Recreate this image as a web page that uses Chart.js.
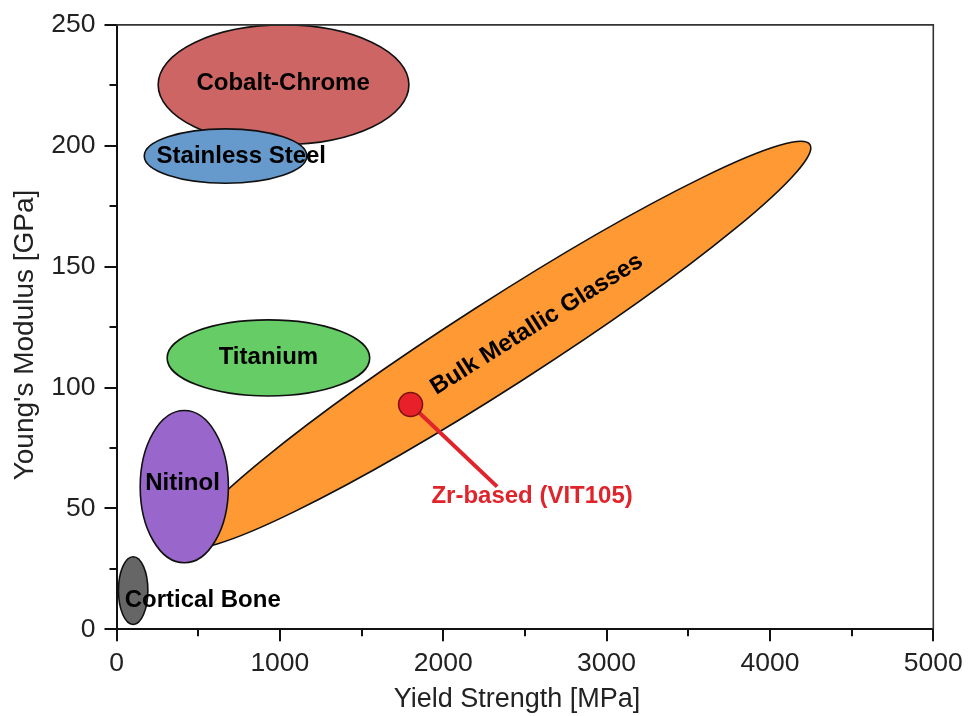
<!DOCTYPE html>
<html>
<head>
<meta charset="utf-8">
<script src="https://cdn.jsdelivr.net/npm/chart.js@4.4.1/dist/chart.umd.min.js"></script>
<style>
  html, body { margin: 0; padding: 0; background: #fff; }
  canvas { display: block; }
</style>
</head>
<body>
<canvas id="chart" width="969" height="716"></canvas>
<script>
// axis ticks
const xTicks = [0, 1000, 2000, 3000, 4000, 5000];
const yTicks = [0, 50, 100, 150, 200, 250];
const xTitle = "Yield Strength [MPa]";
const yTitle = "Young's Modulus [GPa]";

// material regions (yield strength MPa, Young's modulus GPa)
const regionNames = ["Cobalt-Chrome", "Stainless Steel", "Titanium", "Nitinol", "Cortical Bone"];
const strengthMin = [255, 170, 310, 145, 12];
const strengthMax = [1790, 1165, 1550, 685, 192];
const modulusMin = [200.5, 184.5, 96.5, 27.5, 2];
const modulusMax = [250, 207, 128, 90.5, 30];
const regionColors = ["#cd6565", "#6699cc", "#66cc66", "#9966cc", "#666666"];
// where each name is written
const labelStrength = [1020, 764, 930, 404, 528];
const labelModulus = [226, 195.6, 112.5, 60.3, 12.1];

// bulk metallic glasses band, tip to tip
const bmgName = "Bulk Metallic Glasses";
const bmgStrength = [430, 4245];
const bmgModulus = [35, 200.5];
const bmgThickness = 0.116;
const bmgLabel = [2573, 126.1];

// highlighted alloy
const alloyName = "Zr-based (VIT105)";
const alloyStrength = [1800];
const alloyModulus = [93];
const leaderStrength = [1800, 2330];
const leaderModulus = [93, 59];
const alloyLabel = [2544, 55];

const FONT = "'Liberation Sans', Arial, Helvetica, sans-serif";

const regionsPlugin = {
  id: "regions",
  beforeDatasetsDraw(chart) {
    const { ctx } = chart;
    const x = chart.scales.x, y = chart.scales.y;
    ctx.save();
    ctx.lineWidth = 1.6;
    ctx.strokeStyle = "#111";

    // BMG band
    const x0 = x.getPixelForValue(bmgStrength[0]), y0 = y.getPixelForValue(bmgModulus[0]);
    const x1 = x.getPixelForValue(bmgStrength[1]), y1 = y.getPixelForValue(bmgModulus[1]);
    const a = Math.hypot(x1 - x0, y1 - y0) / 2;
    ctx.beginPath();
    ctx.ellipse((x0 + x1) / 2, (y0 + y1) / 2, a, a * bmgThickness, Math.atan2(y1 - y0, x1 - x0), 0, Math.PI * 2);
    ctx.fillStyle = "#ff9933";
    ctx.fill();
    ctx.stroke();

    regionNames.forEach((n, i) => {
      const l = x.getPixelForValue(strengthMin[i]), r = x.getPixelForValue(strengthMax[i]);
      const t = y.getPixelForValue(modulusMax[i]), b = y.getPixelForValue(modulusMin[i]);
      ctx.beginPath();
      ctx.ellipse((l + r) / 2, (t + b) / 2, (r - l) / 2, (b - t) / 2, 0, 0, Math.PI * 2);
      ctx.fillStyle = regionColors[i];
      ctx.fill();
      ctx.stroke();
    });

    ctx.fillStyle = "#000";
    ctx.font = "bold 24px " + FONT;
    ctx.textAlign = "center";
    ctx.textBaseline = "middle";
    regionNames.forEach((n, i) => {
      ctx.fillText(n, x.getPixelForValue(labelStrength[i]), y.getPixelForValue(labelModulus[i]));
    });

    ctx.save();
    ctx.translate(x.getPixelForValue(bmgLabel[0]), y.getPixelForValue(bmgLabel[1]));
    ctx.rotate(-32 * Math.PI / 180);
    ctx.fillText(bmgName, 0, 0);
    ctx.restore();
    ctx.restore();
  },
  afterDraw(chart) {
    const { ctx, chartArea: ca } = chart;
    const x = chart.scales.x, y = chart.scales.y;
    ctx.save();
    // frame top and right
    ctx.strokeStyle = "#333";
    ctx.lineWidth = 1.6;
    ctx.beginPath();
    ctx.moveTo(ca.left, ca.top);
    ctx.lineTo(ca.right, ca.top);
    ctx.lineTo(ca.right, ca.bottom);
    ctx.stroke();
    // minor ticks
    ctx.strokeStyle = "#111";
    ctx.lineWidth = 2;
    ctx.beginPath();
    for (let i = 0; i < xTicks.length - 1; i++) {
      const px = Math.round(x.getPixelForValue((xTicks[i] + xTicks[i + 1]) / 2));
      ctx.moveTo(px, ca.bottom);
      ctx.lineTo(px, ca.bottom + 7);
    }
    for (let i = 0; i < yTicks.length - 1; i++) {
      const py = Math.round(y.getPixelForValue((yTicks[i] + yTicks[i + 1]) / 2));
      ctx.moveTo(ca.left, py);
      ctx.lineTo(ca.left - 7, py);
    }
    ctx.stroke();

    // axis titles
    ctx.fillStyle = "#222";
    ctx.textAlign = "center";
    ctx.textBaseline = "middle";
    ctx.font = "27px " + FONT;
    ctx.fillText(xTitle, 517, 700);
    ctx.save();
    ctx.translate(25, 335);
    ctx.rotate(-Math.PI / 2);
    ctx.font = "28px " + FONT;
    ctx.fillText(yTitle, 0, 0);
    ctx.restore();

    // alloy label
    ctx.fillStyle = "#e0242c";
    ctx.font = "bold 24px " + FONT;
    ctx.fillText(alloyName, x.getPixelForValue(alloyLabel[0]), y.getPixelForValue(alloyLabel[1]));
    ctx.restore();
  }
};

new Chart(document.getElementById("chart"), {
  type: "scatter",
  data: {
    datasets: [
      {
        data: alloyStrength.map((v, i) => ({ x: v, y: alloyModulus[i] })),
        pointRadius: 12,
        pointBackgroundColor: "#e8202a",
        pointBorderColor: "#7a1010",
        pointBorderWidth: 1.5,
      },
      {
        data: leaderStrength.map((v, i) => ({ x: v, y: leaderModulus[i] })),
        showLine: true,
        borderColor: "#e0242c",
        borderWidth: 4,
        pointRadius: 0,
      },
    ],
  },
  options: {
    responsive: false,
    animation: false,
    layout: { padding: { top: 24.3, right: 35.7, left: 0, bottom: 0 } },
    scales: {
      x: {
        type: "linear",
        min: 0,
        max: 5000,
        afterBuildTicks: (s) => { s.ticks = xTicks.map((v) => ({ value: v })); },
        afterFit: (s) => { s.height = 86.7; },
        ticks: {
          autoSkip: false, maxRotation: 0, padding: 6, color: "#222",
          font: { family: FONT, size: 26.5 },
          callback: (v) => String(v),
        },
        grid: { drawOnChartArea: false, tickLength: 12, lineWidth: 2, color: "#111" },
        border: { color: "#111", width: 2 },
      },
      y: {
        type: "linear",
        min: 0,
        max: 250,
        afterBuildTicks: (s) => { s.ticks = yTicks.map((v) => ({ value: v })); },
        afterFit: (s) => { s.width = 116.5; },
        ticks: {
          autoSkip: false, padding: 9, color: "#222",
          font: { family: FONT, size: 26.5 },
          callback: (v) => String(v),
        },
        grid: { drawOnChartArea: false, tickLength: 12, lineWidth: 2, color: "#111" },
        border: { color: "#111", width: 2 },
      },
    },
    plugins: {
      legend: { display: false },
      tooltip: { enabled: false },
    },
  },
  plugins: [regionsPlugin],
});
</script>
</body>
</html>
